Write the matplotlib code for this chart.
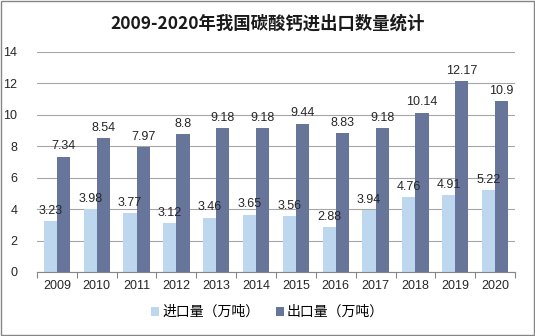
import matplotlib
matplotlib.use("Agg")
import matplotlib.pyplot as plt
import numpy as np
from matplotlib.patches import Rectangle

plt.rcParams["font.family"] = ["Liberation Sans", "Noto Sans CJK SC", "DejaVu Sans"]

years = ["2009", "2010", "2011", "2012", "2013", "2014", "2015", "2016", "2017", "2018", "2019", "2020"]
imports = [3.23, 3.98, 3.77, 3.12, 3.46, 3.65, 3.56, 2.88, 3.94, 4.76, 4.91, 5.22]
exports = [7.34, 8.54, 7.97, 8.8, 9.18, 9.18, 9.44, 8.83, 9.18, 10.14, 12.17, 10.9]
y_ticks = [0, 2, 4, 6, 8, 10, 12, 14]

title = "2009-2020年我国碳酸钙进出口数量统计"
import_label = "进口量（万吨）"
export_label = "出口量（万吨）"

import_color = "#BDD7EE"
export_color = "#67759A"
text_color = "#262626"

fig = plt.figure(figsize=(5.35, 3.36), dpi=100)
ax = fig.add_axes([37 / 535, 1 - 272 / 336, 478 / 535, 220 / 336])

x = np.arange(len(years))
w = 0.33
b1 = ax.bar(x - w / 2, imports, w, color=import_color, label=import_label)
b2 = ax.bar(x + w / 2, exports, w, color=export_color, label=export_label)

for rect, v in zip(b1, imports):
    ax.annotate(f"{v:g}", (rect.get_x() + rect.get_width() / 2, v), xytext=(0, 3),
                textcoords="offset points", ha="center", va="bottom", fontsize=9, color=text_color)
for rect, v in zip(b2, exports):
    ax.annotate(f"{v:g}", (rect.get_x() + rect.get_width() / 2, v), xytext=(0, 3),
                textcoords="offset points", ha="center", va="bottom", fontsize=9, color=text_color)

ax.set_xlim(-0.5, len(years) - 0.5)
ax.set_ylim(0, 14)
ax.set_yticks(y_ticks)
ax.set_yticklabels([str(t) for t in y_ticks], fontsize=9, color=text_color)
ax.set_xticks(x)
ax.set_xticklabels(years, fontsize=9, color=text_color)
ax.tick_params(axis="x", length=0, pad=6)
ax.tick_params(axis="y", length=0, pad=14)
ax.set_xticks(np.arange(-0.5, len(years)), minor=True)
ax.tick_params(axis="x", which="minor", length=4, color="#868686", width=0.8)

ax.grid(axis="y", color="#A6A6A6", linewidth=0.8)
ax.set_axisbelow(True)
for s in ("left", "right", "top"):
    ax.spines[s].set_visible(False)
ax.spines["bottom"].set_color("#868686")
ax.spines["bottom"].set_linewidth(0.8)

fig.text(0.5, 1 - 24 / 336, title, ha="center", va="center", fontsize=12.5, fontweight="bold",
         family=["Noto Sans CJK SC"], color="#1a1a1a")

leg = fig.legend(handles=[b1, b2], loc="center", bbox_to_anchor=(0.5, 1 - 312 / 336), ncol=2,
                 frameon=False, fontsize=10, handlelength=0.6, handleheight=0.6,
                 handletextpad=0.2, columnspacing=1.2, prop={"family": ["Noto Sans CJK SC"], "size": 10})

fig.patches.append(Rectangle((1 / 535, 1 / 336), 533 / 535, 334 / 336, transform=fig.transFigure,
                             fill=False, edgecolor="#868686", linewidth=1))

fig.savefig("out.png", dpi=100)
